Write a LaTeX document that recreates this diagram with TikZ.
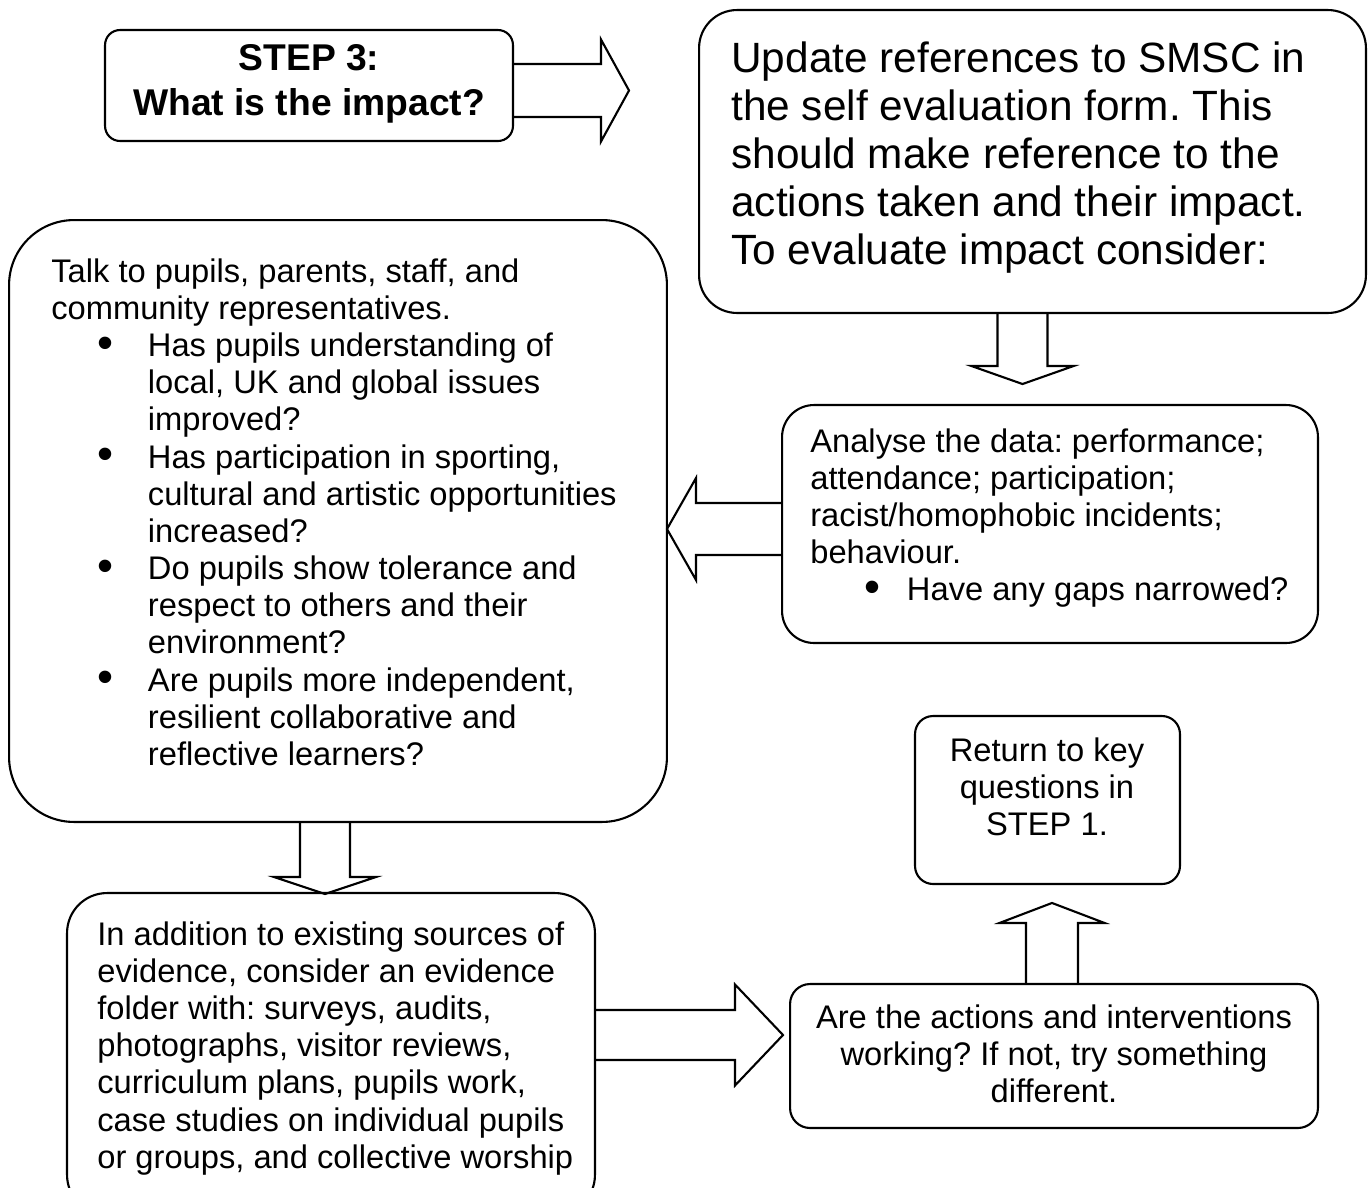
\documentclass[tikz,border=0pt]{standalone}
\usepackage{fontspec}
\usepackage{graphicx}
\setmainfont{Liberation Sans}
\usetikzlibrary{calc}

\newcommand{\fatarrow}[6]{%
    \begin{scope}[shift={(#1)}, rotate=#2]
        \draw[line width=1.2pt] (0,-#4) -- (#3-#6,-#4) -- (#3-#6,-#5) -- (#3,0) -- (#3-#6,#5) -- (#3-#6,#4) -- (0,#4);
    \end{scope}
}
\newcommand{\bul}[1]{\hspace*{#1}\makebox[\dimexpr55pt-#1\relax][l]{\raisebox{-1pt}{\scalebox{1.4}{\textbullet}}}}
\newcommand{\ind}{\hspace*{55pt}}

\begin{document}
\frenchspacing
\begin{tikzpicture}[x=0.02cm, y=-0.02cm,
    box/.style = {draw, line width=1.2pt, inner sep=0pt},
    txt/.style = {inner sep=0pt, align=left, font=\fontsize{18.6}{21.15}\selectfont},
    bigtxt/.style = {inner sep=0pt, align=left, font=\fontsize{24.1}{27.4}\selectfont}]
            \useasboundingbox (0,0) rectangle (1369,1187);
            \clip (0,0) rectangle (1369,1187);

            % Draw the boxes
            \node[box, rounded corners=0.3cm, minimum width=8.16cm, minimum height=2.22cm] (step) at (309,85.5) {};
            \node[box, rounded corners=0.76cm, minimum width=13.34cm, minimum height=6.06cm] (update) at (1032.5,161.5) {};
            \node[box, rounded corners=1.3cm, minimum width=13.16cm, minimum height=12.04cm] (talk) at (338,521) {};
            \node[box, rounded corners=0.64cm, minimum width=10.72cm, minimum height=4.76cm] (analyse) at (1050,524) {};
            \node[box, rounded corners=0.36cm, minimum width=5.3cm, minimum height=3.36cm] (back) at (1047.5,800) {};
            \node[box, rounded corners=0.8cm, minimum width=10.56cm, minimum height=6.44cm] (evidence) at (331,1054) {};
            \node[box, rounded corners=0.4cm, minimum width=10.56cm, minimum height=2.88cm] (working) at (1054,1056) {};

            % Add the texts
            \node[txt, align=center, anchor=north, font=\fontsize{21.2}{25.5}\selectfont\bfseries] (steptxt) at (309,44.5) {STEP 3:\\What is the impact?};
            \node[bigtxt, anchor=north west] (updatetxt) at (731,41) {Update references to SMSC in\\the self evaluation form. This\\should make reference to the\\actions taken and their impact.\\To evaluate impact consider:};
            \node[txt, anchor=north west] (talktxt) at (51,258.3) {Talk to pupils, parents, staff, and\\community representatives.\\
                \bul{26pt}Has pupils understanding of\\\ind local, UK and global issues\\\ind improved?\\
                \bul{26pt}Has participation in sporting,\\\ind cultural and artistic opportunities\\\ind increased?\\
                \bul{26pt}Do pupils show tolerance and\\\ind respect to others and their\\\ind environment?\\
                \bul{26pt}Are pupils more independent,\\\ind resilient collaborative and\\\ind reflective learners?};
            \node[txt, anchor=north west] (analysetxt) at (810,428.3) {Analyse the data: performance;\\attendance; participation;\\racist/homophobic incidents;\\behaviour.\\
                \bul{30.6pt}Have any gaps narrowed?};
            \node[txt, align=center, anchor=north] (backtxt) at (1047,737.3) {Return to key\\questions in\\STEP 1.};
            \node[txt, anchor=north west] (evidencetxt) at (97,921.3) {In addition to existing sources of\\evidence, consider an evidence\\folder with: surveys, audits,\\photographs, visitor reviews,\\curriculum plans, pupils work,\\case studies on individual pupils\\or groups, and collective worship};
            \node[txt, align=center, anchor=north] (workingtxt) at (1054,1004.3) {Are the actions and interventions\\working? If not, try something\\different.};

            % Draw the block arrows
            \fatarrow{$(step.east)+(0,5)$}{0}{115}{26.5}{51}{28}
            \fatarrow{$(update.south)+(-10,0)$}{-90}{70}{25}{51}{18}
            \fatarrow{$(analyse.west)+(0,5)$}{180}{114}{26}{51}{29}
            \fatarrow{$(talk.south)+(-13,0)$}{-90}{71}{25}{51}{17}
            \fatarrow{$(evidence.east)+(0,-19)$}{0}{187}{25}{50.5}{48}
            \fatarrow{$(working.north)+(-2,0)$}{90}{80}{26}{52.5}{20}
        \end{tikzpicture}
\end{document}
